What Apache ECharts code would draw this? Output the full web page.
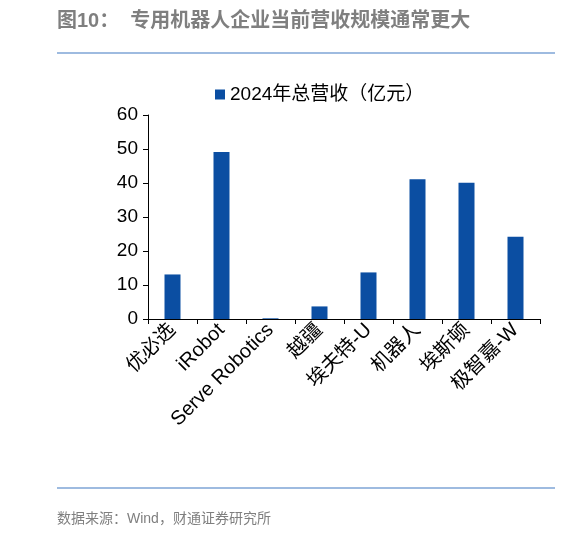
<!doctype html>
<html>
<head>
<meta charset="UTF-8">
<script src="https://cdn.jsdelivr.net/npm/echarts@6/dist/echarts.min.js"></script>
<style>body{margin:0}#c{width:581px;height:540px}</style>
</head>
<body>
<div id="c"></div>
<script>
var categories = ['优必选', 'iRobot', 'Serve Robotics', '越疆', '埃夫特-U', '机器人', '埃斯顿', '极智嘉-W'];
var revenue = [13.1, 49.1, 0.2, 3.7, 13.7, 41.1, 40.1, 24.2];
var seriesName = '2024年总营收（亿元）';

var font = '"Liberation Sans", "Noto Sans CJK SC", sans-serif';
var chart = echarts.init(document.getElementById('c'));
chart.setOption({
	backgroundColor: '#fff',
	textStyle: { fontFamily: font },
	graphic: [
		{ type: 'text', left: 57, top: 11, style: { text: '图10：  专用机器人企业当前营收规模通常更大', fill: '#7f7f7f', font: 'bold 20px ' + font } },
		{ type: 'line', shape: { x1: 57, y1: 53, x2: 555, y2: 53 }, style: { stroke: '#7ea4d6', lineWidth: 1.5 } },
		{ type: 'line', shape: { x1: 57, y1: 488, x2: 555, y2: 488 }, style: { stroke: '#7ea4d6', lineWidth: 1.5 } },
		{ type: 'text', left: 57, top: 512, style: { text: '数据来源：Wind，财通证券研究所', fill: '#7f7f7f', font: '14px ' + font } }
	],
	legend: {
		top: 80, left: 210, itemWidth: 10, itemHeight: 10, itemGap: 4,
		icon: 'rect',
		textStyle: { fontSize: 19, color: '#000' },
		data: [seriesName]
	},
	grid: { left: 148, right: 41, top: 115, bottom: 221 },
	xAxis: {
		type: 'category', data: categories,
		axisLine: { lineStyle: { color: '#000' } },
		axisTick: { show: true, alignWithLabel: false, lineStyle: { color: '#000' } },
		axisLabel: { rotate: 45, interval: 0, fontSize: 20, color: '#000', margin: 8 }
	},
	yAxis: {
		type: 'value', min: 0, max: 60, interval: 10,
		splitLine: { show: false },
		axisLine: { show: true, lineStyle: { color: '#000' } },
		axisTick: { show: true, lineStyle: { color: '#000' } },
		axisLabel: { fontSize: 19, color: '#000', margin: 10 }
	},
	series: [{
		name: seriesName, type: 'bar', data: revenue,
		barWidth: 16,
		itemStyle: { color: '#0b4ea2' }
	}]
});
</script>
</body>
</html>
